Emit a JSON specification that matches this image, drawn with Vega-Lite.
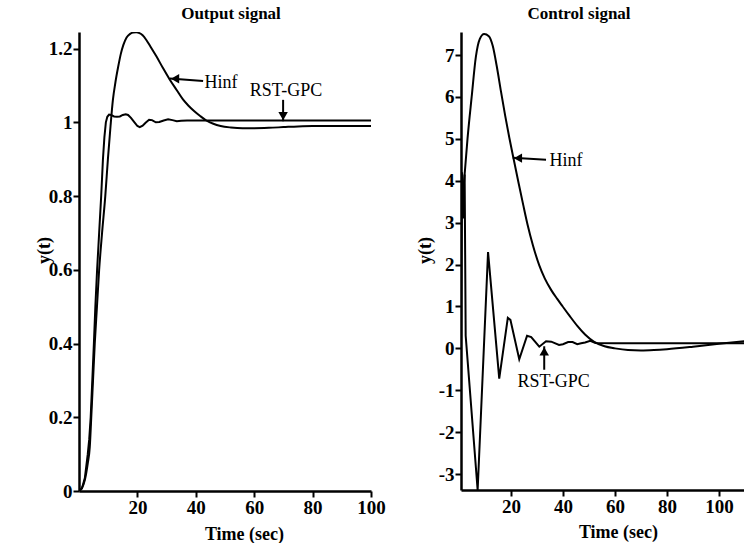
{
  "$schema": "https://vega.github.io/schema/vega-lite/v6.json",
  "padding": {"left": 35, "top": 5, "right": 0, "bottom": 0},
  "spacing": 30,
  "background": "white",
  "config": {
    "view": {"stroke": null},
    "font": "Liberation Serif",
    "axis": {
      "domainColor": "black", "domainWidth": 2.5, "tickColor": "black", "tickWidth": 2, "tickSize": 6,
      "labelFont": "Liberation Serif", "labelFontSize": 19, "labelFontWeight": "bold", "labelColor": "black",
      "titleFont": "Liberation Serif", "titleFontSize": 18, "titleFontWeight": "bold", "titleColor": "black",
      "grid": false, "labelPadding": 1, "labelFlush": false, "labelOverlap": false
    },
    "title": {"font": "Liberation Serif", "fontSize": 17, "fontWeight": "bold", "color": "black"}
  },
  "datasets": {
    "out_hinf": [
      {"t":0,"v":0},{"t":1,"v":0.008},{"t":2,"v":0.03},{"t":3,"v":0.075},{"t":3.7,"v":0.12},{"t":4.2,"v":0.2},{"t":4.8,"v":0.3},{"t":5.4,"v":0.4},{"t":6.15,"v":0.5},{"t":6.9,"v":0.6},{"t":7.9,"v":0.7},{"t":9,"v":0.8},{"t":9.9,"v":0.9},{"t":10.8,"v":0.99},{"t":11.6,"v":1.06},{"t":12.5,"v":1.11},{"t":13.4,"v":1.15},{"t":14.3,"v":1.185},{"t":15.2,"v":1.21},{"t":16.3,"v":1.23},{"t":17.5,"v":1.24},{"t":18.6,"v":1.2435},{"t":19.6,"v":1.244},{"t":20.7,"v":1.242},{"t":21.8,"v":1.236},{"t":23,"v":1.224},{"t":24.5,"v":1.205},{"t":26.5,"v":1.179},{"t":28.7,"v":1.148},{"t":31,"v":1.117},{"t":33.5,"v":1.087},{"t":35.6,"v":1.062},{"t":37.5,"v":1.045},{"t":39.5,"v":1.03},{"t":41.5,"v":1.017},{"t":43.6,"v":1.005},{"t":46,"v":0.996},{"t":48.5,"v":0.99},{"t":52,"v":0.986},{"t":56,"v":0.984},{"t":60,"v":0.984},{"t":65,"v":0.985},{"t":70,"v":0.987},{"t":75,"v":0.989},{"t":80,"v":0.99},{"t":100,"v":0.99}
    ],
    "out_rst": [
      {"t":0,"v":0},{"t":1,"v":0.007},{"t":2,"v":0.035},{"t":3,"v":0.1},{"t":3.5,"v":0.14},{"t":4,"v":0.2},{"t":4.5,"v":0.29},{"t":5.1,"v":0.4},{"t":5.6,"v":0.5},{"t":6.2,"v":0.6},{"t":6.9,"v":0.7},{"t":7.6,"v":0.8},{"t":8.2,"v":0.9},{"t":8.7,"v":0.96},{"t":9.2,"v":1.0},{"t":9.7,"v":1.015},{"t":10.3,"v":1.021},{"t":11,"v":1.02},{"t":12,"v":1.016},{"t":13,"v":1.015},{"t":14,"v":1.016},{"t":15,"v":1.02},{"t":16,"v":1.022},{"t":16.8,"v":1.02},{"t":17.8,"v":1.012},{"t":19,"v":1.0},{"t":20,"v":0.99},{"t":20.8,"v":0.987},{"t":21.8,"v":0.991},{"t":22.8,"v":0.999},{"t":24,"v":1.007},{"t":25,"v":1.006},{"t":26.3,"v":1.0},{"t":27.5,"v":1.001},{"t":29,"v":1.005},{"t":30.5,"v":1.008},{"t":32,"v":1.006},{"t":33.5,"v":1.003},{"t":35,"v":1.004},{"t":37,"v":1.005},{"t":40,"v":1.005},{"t":100,"v":1.005}
    ],
    "ctl_hinf": [
      {"t":0.8,"v":3.0},{"t":2,"v":4.0},{"t":3.3,"v":5.0},{"t":4.9,"v":6.0},{"t":6.5,"v":6.95},{"t":8,"v":7.38},{"t":9.7,"v":7.5},{"t":11.5,"v":7.45},{"t":13,"v":7.22},{"t":14.5,"v":6.75},{"t":16.2,"v":6.12},{"t":17.8,"v":5.55},{"t":19.4,"v":5.02},{"t":21.2,"v":4.47},{"t":23,"v":3.93},{"t":24.7,"v":3.43},{"t":26.4,"v":2.95},{"t":28.5,"v":2.45},{"t":30.9,"v":1.98},{"t":33,"v":1.67},{"t":35.5,"v":1.39},{"t":37.8,"v":1.18},{"t":39.9,"v":1.0},{"t":42.5,"v":0.78},{"t":45.6,"v":0.53},{"t":48.5,"v":0.33},{"t":52,"v":0.155},{"t":56,"v":0.05},{"t":60,"v":0.0},{"t":65,"v":-0.04},{"t":70,"v":-0.05},{"t":75,"v":-0.04},{"t":80,"v":-0.02},{"t":90,"v":0.04},{"t":100,"v":0.11},{"t":110,"v":0.17}
    ],
    "ctl_rst": [
      {"t":0.8,"v":0.0},{"t":1.2,"v":4.2},{"t":1.7,"v":3.1},{"t":2.2,"v":4.15},{"t":2.6,"v":0.3},{"t":7.2,"v":-3.38},{"t":11.2,"v":2.3},{"t":15.5,"v":-0.72},{"t":18.8,"v":0.73},{"t":19.8,"v":0.68},{"t":23.2,"v":-0.26},{"t":26.2,"v":0.3},{"t":27.8,"v":0.27},{"t":30.9,"v":0.04},{"t":33.5,"v":0.17},{"t":35.5,"v":0.16},{"t":38.5,"v":0.08},{"t":40,"v":0.1},{"t":42,"v":0.15},{"t":43.7,"v":0.15},{"t":45.5,"v":0.1},{"t":47,"v":0.12},{"t":48.5,"v":0.14},{"t":50.5,"v":0.18},{"t":52.5,"v":0.13},{"t":60,"v":0.12},{"t":110,"v":0.12}
    ],
    "lab_l": [{"t":48.6,"v":1.107,"label":"Hinf"},{"t":70.9,"v":1.085,"label":"RST-GPC"}],
    "arr_l": [{"t":31.1,"v":1.119,"t2":42.5,"v2":1.112},{"t":69.9,"v":1.061,"t2":69.9,"v2":1.003}],
    "headl_l": [{"t":32.9,"v":1.118}],
    "headd_l": [{"t":69.9,"v":1.017}],
    "lab_r": [{"t":41.2,"v":4.47,"label":"Hinf"},{"t":36.4,"v":-0.8,"label":"RST-GPC"}],
    "arr_r": [{"t":20.7,"v":4.55,"t2":33.5,"v2":4.5},{"t":32.8,"v":-0.51,"t2":32.8,"v2":0.05}],
    "headl_r": [{"t":22.7,"v":4.54}],
    "headu_r": [{"t":32.8,"v":-0.07}]
  },
  "hconcat": [
    {
      "width": 292, "height": 459,
      "title": {"text": "Output signal", "dx": 6, "offset": 9},
      "encoding": {
        "x": {"field": "t", "type": "quantitative", "scale": {"domain": [0, 100], "nice": false, "zero": false},
              "axis": {"title": "Time (sec)", "values": [20, 40, 60, 80, 100], "titleX": 165, "titleY": 43, "titleBaseline": "middle"}},
        "y": {"field": "v", "type": "quantitative", "scale": {"domain": [0, 1.245], "nice": false, "zero": false},
              "axis": {"title": "y(t)", "values": [0, 0.2, 0.4, 0.6, 0.8, 1, 1.2], "format": "~g", "titleX": -35, "titleY": 218, "titleBaseline": "middle", "titleAlign": "center"}}
      },
      "layer": [
        {"data": {"name": "out_rst"}, "mark": {"type": "line", "color": "black", "strokeWidth": 2, "clip": true}},
        {"data": {"name": "out_hinf"}, "mark": {"type": "line", "color": "black", "strokeWidth": 2, "clip": true, "interpolate": "monotone"}},
        {"data": {"name": "arr_l"}, "mark": {"type": "rule", "color": "black", "strokeWidth": 2},
         "encoding": {"x2": {"field": "t2"}, "y2": {"field": "v2"}}},
        {"data": {"name": "headl_l"}, "mark": {"type": "point", "shape": "triangle-left", "filled": true, "color": "black", "opacity": 1, "size": 90}},
        {"data": {"name": "headd_l"}, "mark": {"type": "point", "shape": "triangle-down", "filled": true, "color": "black", "opacity": 1, "size": 90}},
        {"data": {"name": "lab_l"}, "mark": {"type": "text", "font": "Liberation Serif", "fontSize": 18, "color": "black", "align": "center", "baseline": "middle"},
         "encoding": {"text": {"field": "label"}}}
      ]
    },
    {
      "width": 284, "height": 458,
      "title": {"text": "Control signal", "dx": -24, "offset": 9},
      "encoding": {
        "x": {"field": "t", "type": "quantitative", "scale": {"domain": [0.8, 110], "nice": false, "zero": false},
              "axis": {"title": "Time (sec)", "values": [20, 40, 60, 80, 100], "titleX": 157, "titleY": 42, "titleBaseline": "middle"}},
        "y": {"field": "v", "type": "quantitative", "scale": {"domain": [-3.38, 7.55], "nice": false, "zero": false},
              "axis": {"title": "y(t)", "values": [-3, -2, -1, 0, 1, 2, 3, 4, 5, 6, 7], "labelExpr": "'' + datum.value", "titleX": -36, "titleY": 218, "titleBaseline": "middle", "titleAlign": "center"}}
      },
      "layer": [
        {"data": {"name": "ctl_rst"}, "mark": {"type": "line", "color": "black", "strokeWidth": 2, "clip": true}},
        {"data": {"name": "ctl_hinf"}, "mark": {"type": "line", "color": "black", "strokeWidth": 2, "clip": true, "interpolate": "monotone"}},
        {"data": {"name": "arr_r"}, "mark": {"type": "rule", "color": "black", "strokeWidth": 2},
         "encoding": {"x2": {"field": "t2"}, "y2": {"field": "v2"}}},
        {"data": {"name": "headl_r"}, "mark": {"type": "point", "shape": "triangle-left", "filled": true, "color": "black", "opacity": 1, "size": 90}},
        {"data": {"name": "headu_r"}, "mark": {"type": "point", "shape": "triangle-up", "filled": true, "color": "black", "opacity": 1, "size": 90}},
        {"data": {"name": "lab_r"}, "mark": {"type": "text", "font": "Liberation Serif", "fontSize": 18, "color": "black", "align": "center", "baseline": "middle"},
         "encoding": {"text": {"field": "label"}}}
      ]
    }
  ]
}
